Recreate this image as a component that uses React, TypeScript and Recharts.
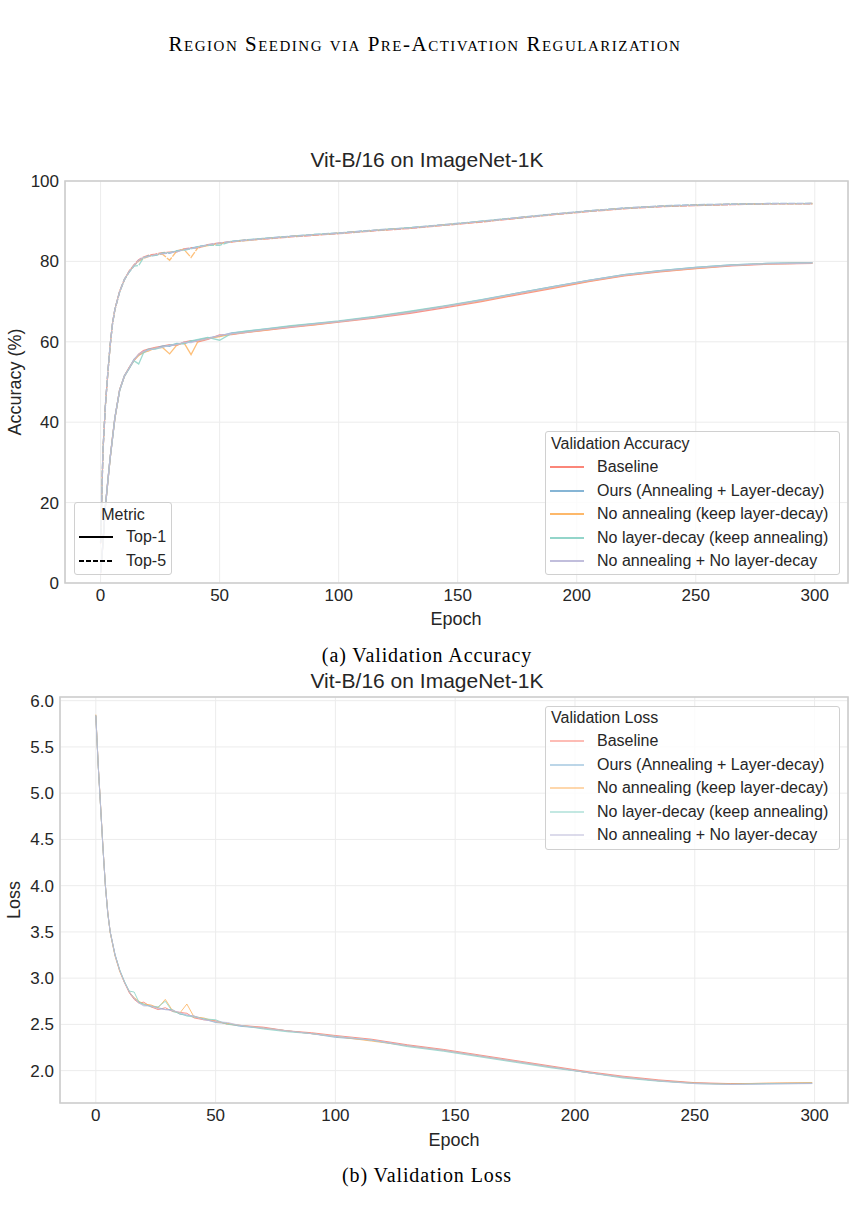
import React from 'react';
import { LineChart, Line, XAxis, YAxis, CartesianGrid, ReferenceArea } from 'recharts';

// ---------- data ----------
const epochs = [0, 1, 2, 3, 4, 5, 6, 8, 10, 12, 14, 16, 18, 20, 23, 26, 29, 32, 35, 38, 41, 45, 50, 55, 60, 70, 80, 90, 100, 115, 130, 145, 160, 175, 190, 205, 220, 235, 250, 265, 280, 299];

const seriesNames = [
  'Baseline',
  'Ours (Annealing + Layer-decay)',
  'No annealing (keep layer-decay)',
  'No layer-decay (keep annealing)',
  'No annealing + No layer-decay',
];
const seriesColors = ['#fb8072', '#80b1d3', '#fdb462', '#8dd3c7', '#bebada'];

const baselineTop1 = [2.4, 9.8, 18.8, 25.2, 31, 36.2, 41, 48.1, 51.4, 53.6, 55.3, 56.9, 57.8, 58.2, 58.6, 58.9, 59.3, 59.1, 59.9, 60.3, 60.0, 60.6, 61.7, 61.8, 62.2, 62.9, 63.6, 64.2, 64.9, 65.9, 67.1, 68.5, 70.0, 71.7, 73.3, 75.0, 76.4, 77.4, 78.2, 78.9, 79.3, 79.5];
const oursTop1 = [2.6, 10.1, 19.1, 25, 31.1, 36, 41.1, 47.9, 51.6, 53.4, 55.6, 56.7, 57.3, 58.1, 58.3, 59.0, 58.9, 59.6, 59.5, 60.1, 60.5, 61.0, 61.4, 62.2, 62.5, 63.2, 63.9, 64.5, 65.1, 66.2, 67.5, 68.9, 70.4, 72.1, 73.7, 75.3, 76.7, 77.7, 78.5, 79.1, 79.5, 79.7];
const noAnnealTop1 = [2.5, 10, 19, 24.9, 30.9, 36.1, 40.9, 48, 51.5, 53.5, 55.4, 56.6, 57.4, 57.7, 58.5, 58.6, 57.0, 59.2, 59.8, 56.8, 60.2, 60.8, 61.3, 61.9, 62.3, 63.0, 63.8, 64.3, 65.0, 66.1, 67.4, 68.8, 70.2, 71.9, 73.5, 75.1, 76.5, 77.5, 78.3, 79.0, 79.4, 79.6];
const noLayerDecayTop1 = [2.5, 9.9, 18.9, 25.1, 31, 35.9, 41, 47.9, 51.4, 53.3, 55.3, 54.5, 57.2, 58.1, 58.2, 58.7, 59.2, 59.5, 59.6, 60.2, 60.6, 61.1, 60.4, 62.1, 62.6, 63.3, 64.0, 64.6, 65.2, 66.3, 67.6, 69.0, 70.5, 72.1, 73.7, 75.3, 76.7, 77.7, 78.5, 79.1, 79.5, 79.7];
const noBothTop1 = [2.5, 10, 19, 25, 31, 36, 41, 48, 51.5, 53.5, 55.5, 56.9, 57.6, 57.9, 58.4, 58.7, 59.1, 59.3, 59.9, 59.8, 60.3, 60.7, 61.6, 62.0, 62.3, 63.1, 63.7, 64.4, 65.0, 66.1, 67.3, 68.8, 70.3, 72.0, 73.6, 75.2, 76.6, 77.6, 78.4, 79.0, 79.4, 79.6];

const baselineTop5 = [9.8, 32.8, 43.9, 52, 59, 64.6, 68.1, 72.6, 75.4, 77.6, 79.1, 80.4, 81.1, 81.5, 81.8, 82.2, 82.3, 82.4, 83.1, 83.4, 83.3, 84.2, 84.6, 84.8, 85.3, 85.6, 86.1, 86.5, 86.9, 87.6, 88.2, 89.0, 89.8, 90.7, 91.6, 92.4, 93.1, 93.6, 93.9, 94.1, 94.3, 94.3];
const oursTop5 = [10.1, 33.1, 44.1, 52.1, 59.1, 64.4, 68, 72.4, 75.6, 77.4, 78.9, 80.2, 80.8, 81.4, 81.5, 82.0, 82.0, 82.7, 82.8, 83.3, 83.7, 84.1, 84.4, 85.0, 85.2, 85.8, 86.3, 86.7, 87.1, 87.8, 88.4, 89.2, 90.0, 90.9, 91.8, 92.6, 93.3, 93.8, 94.1, 94.3, 94.4, 94.45];
const noAnnealTop5 = [10, 33, 44, 51.9, 58.9, 64.5, 67.9, 72.5, 75.5, 77.5, 79.0, 80.1, 80.7, 81.2, 81.7, 81.8, 80.3, 82.6, 83.0, 81.0, 83.5, 83.9, 84.5, 84.9, 85.1, 85.7, 86.2, 86.6, 87.0, 87.7, 88.3, 89.1, 89.9, 90.8, 91.7, 92.5, 93.2, 93.7, 94.0, 94.2, 94.35, 94.4];
const noLayerDecayTop5 = [10, 32.9, 43.9, 52, 59, 64.5, 68, 72.4, 75.4, 77.3, 78.8, 79.0, 80.9, 81.3, 81.5, 82.1, 82.2, 82.6, 82.8, 83.1, 83.7, 84.0, 84.0, 85.0, 85.3, 85.8, 86.2, 86.7, 87.0, 87.7, 88.4, 89.1, 90.0, 90.8, 91.7, 92.5, 93.2, 93.7, 94.0, 94.2, 94.35, 94.4];
const noBothTop5 = [10, 33, 44, 52, 59, 64.5, 68, 72.5, 75.5, 77.5, 79.0, 80.3, 81.0, 81.2, 81.7, 81.9, 82.1, 82.4, 83.0, 83.2, 83.5, 84.1, 84.6, 84.9, 85.2, 85.7, 86.2, 86.6, 87.0, 87.7, 88.3, 89.1, 89.9, 90.8, 91.7, 92.5, 93.2, 93.7, 94.0, 94.2, 94.35, 94.4];

const baselineLoss = [5.84, 5.31, 4.86, 4.41, 4.0, 3.71, 3.5, 3.25, 3.08, 2.95, 2.84, 2.77, 2.73, 2.74, 2.69, 2.66, 2.68, 2.64, 2.63, 2.62, 2.57, 2.55, 2.54, 2.50, 2.49, 2.47, 2.43, 2.41, 2.38, 2.34, 2.28, 2.23, 2.17, 2.11, 2.05, 1.99, 1.94, 1.90, 1.87, 1.86, 1.862, 1.868];
const oursLoss = [5.84, 5.3, 4.85, 4.4, 4.0, 3.7, 3.5, 3.26, 3.08, 2.96, 2.85, 2.78, 2.74, 2.71, 2.70, 2.68, 2.66, 2.66, 2.61, 2.60, 2.59, 2.56, 2.52, 2.51, 2.48, 2.46, 2.43, 2.40, 2.36, 2.33, 2.27, 2.22, 2.16, 2.10, 2.04, 1.98, 1.93, 1.89, 1.865, 1.855, 1.858, 1.862];
const noAnnealLoss = [5.85, 5.3, 4.85, 4.4, 4.0, 3.7, 3.49, 3.24, 3.07, 2.95, 2.85, 2.79, 2.75, 2.72, 2.71, 2.68, 2.77, 2.65, 2.62, 2.72, 2.58, 2.57, 2.53, 2.51, 2.49, 2.46, 2.43, 2.40, 2.37, 2.32, 2.27, 2.22, 2.16, 2.10, 2.04, 1.98, 1.93, 1.89, 1.865, 1.855, 1.865, 1.87];
const noLayerDecayLoss = [5.84, 5.3, 4.85, 4.4, 4.0, 3.7, 3.5, 3.25, 3.09, 2.96, 2.86, 2.85, 2.74, 2.72, 2.69, 2.69, 2.75, 2.64, 2.62, 2.59, 2.58, 2.56, 2.55, 2.50, 2.49, 2.45, 2.42, 2.40, 2.37, 2.33, 2.26, 2.21, 2.15, 2.09, 2.03, 1.98, 1.92, 1.885, 1.86, 1.85, 1.86, 1.865];
const noBothLoss = [5.84, 5.3, 4.85, 4.4, 4.0, 3.7, 3.5, 3.25, 3.08, 2.95, 2.85, 2.78, 2.73, 2.70, 2.70, 2.67, 2.66, 2.65, 2.63, 2.60, 2.59, 2.55, 2.53, 2.52, 2.49, 2.46, 2.43, 2.40, 2.37, 2.33, 2.27, 2.22, 2.16, 2.10, 2.04, 1.98, 1.93, 1.89, 1.86, 1.85, 1.855, 1.86];

const xTicks = [0, 50, 100, 150, 200, 250, 300];
const accTicks = [0, 20, 40, 60, 80, 100];
const lossTicks = [2.0, 2.5, 3.0, 3.5, 4.0, 4.5, 5.0, 5.5, 6.0];

const top1Sets = [baselineTop1, oursTop1, noAnnealTop1, noLayerDecayTop1, noBothTop1];
const top5Sets = [baselineTop5, oursTop5, noAnnealTop5, noLayerDecayTop5, noBothTop5];
const lossSets = [baselineLoss, oursLoss, noAnnealLoss, noLayerDecayLoss, noBothLoss];

const accData = epochs.map((e, i) => {
  const row: Record<string, number> = { epoch: e };
  top1Sets.forEach((s, k) => { row['t1_' + k] = s[i]; });
  top5Sets.forEach((s, k) => { row['t5_' + k] = s[i]; });
  return row;
});
const lossData = epochs.map((e, i) => {
  const row: Record<string, number> = { epoch: e };
  lossSets.forEach((s, k) => { row['l_' + k] = s[i]; });
  return row;
});

// ---------- styles ----------
const SANS = '"Liberation Sans", Arial, Helvetica, sans-serif';
const SERIF = '"Liberation Serif", "Times New Roman", serif';
const INK = '#262626';
const X_DOMAIN: [number, number] = [-14.95, 313.95];

const Txt = (p: { x: number; y: number; size: number; children: React.ReactNode; serif?: boolean; rotate?: boolean; anchor?: 'left' | 'center'; style?: React.CSSProperties }) => (
  <div
    style={{
      position: 'absolute',
      left: p.x,
      top: p.y,
      transform: `translate(${p.anchor === 'left' ? '0' : '-50%'}, -50%)${p.rotate ? ' rotate(-90deg)' : ''}`,
      fontFamily: p.serif ? SERIF : SANS,
      fontSize: p.size,
      lineHeight: 1,
      whiteSpace: 'nowrap',
      color: p.serif ? '#000' : INK,
      ...p.style,
    }}
  >
    {p.children}
  </div>
);

const LegendLine = (p: { x: number; y: number; color: string; width: number; opacity: number; dash?: string }) => (
  <svg style={{ position: 'absolute', left: p.x, top: p.y - 3, overflow: 'visible' }} width={34} height={6}>
    <line x1={0} y1={3} x2={34} y2={3} stroke={p.color} strokeWidth={p.width} strokeOpacity={p.opacity} strokeDasharray={p.dash} />
  </svg>
);

const boxStyle = (left: number, top: number, width: number, height: number): React.CSSProperties => ({
  position: 'absolute',
  left,
  top,
  width,
  height,
  boxSizing: 'border-box',
  border: '1px solid #d0d0d0',
  borderRadius: 3,
  background: 'rgba(255,255,255,0.8)',
});

const tickStyle = { fill: INK, fontSize: 17, fontFamily: SANS };

export default function App() {
  const legendRowsY = [0, 23.5, 47, 70.5, 94];
  return (
    <div style={{ position: 'absolute', left: 0, top: 0, width: 862, height: 1211, background: '#fff', overflow: 'hidden' }}>
      {/* running header */}
      <Txt x={425} y={44} size={21} serif style={{ fontVariant: 'small-caps', letterSpacing: 1.5 }}>
        Region Seeding via Pre-Activation Regularization
      </Txt>

      {/* ---------- Accuracy chart ---------- */}
      <Txt x={427} y={159} size={21}>Vit-B/16 on ImageNet-1K</Txt>
      <div style={{ position: 'absolute', left: 0, top: 140 }}>
        <LineChart width={862} height={500} data={accData} margin={{ top: 41, right: 14, bottom: 27, left: 15 }}>
          <CartesianGrid stroke="#ececec" strokeWidth={1} />
          <XAxis
            dataKey="epoch"
            type="number"
            domain={X_DOMAIN}
            ticks={xTicks}
            allowDataOverflow
            axisLine={false}
            tickLine={false}
            tickSize={4}
            tickMargin={2}
            height={30}
            tick={tickStyle}
            interval={0}
          />
          <YAxis
            type="number"
            domain={[0, 100]}
            ticks={accTicks}
            axisLine={false}
            tickLine={false}
            tickSize={4}
            tickMargin={2}
            width={50}
            tick={tickStyle}
            interval={0}
          />
          {seriesColors.flatMap((c, k) => [
            <Line key={'t1' + k} dataKey={'t1_' + k} type="linear" stroke={c} strokeWidth={1.3} strokeOpacity={0.85} dot={false} isAnimationActive={false} />,
            <Line key={'t5' + k} dataKey={'t5_' + k} type="linear" stroke={c} strokeWidth={1.3} strokeOpacity={0.85} strokeDasharray="7 1.2" dot={false} isAnimationActive={false} />,
          ])}
          <ReferenceArea x1={X_DOMAIN[0]} x2={X_DOMAIN[1]} y1={0} y2={100} fill="none" stroke="#cccccc" strokeWidth={1.6} ifOverflow="visible" />
        </LineChart>
      </div>
      <Txt x={456} y={619} size={18}>Epoch</Txt>
      <Txt x={15} y={382} size={18} rotate>Accuracy (%)</Txt>

      {/* Metric legend */}
      <div style={boxStyle(74, 502, 98, 73)} />
      <Txt x={123} y={514.5} size={16}>Metric</Txt>
      <LegendLine x={79} y={537} color="#000" width={1.8} opacity={1} />
      <Txt x={126} y={537} size={16} anchor="left">Top-1</Txt>
      <LegendLine x={79} y={561} color="#000" width={1.8} opacity={1} dash="5 2" />
      <Txt x={126} y={561} size={16} anchor="left">Top-5</Txt>

      {/* Validation accuracy legend */}
      <div style={boxStyle(545, 431, 295, 144)} />
      <Txt x={551} y={443.5} size={16} anchor="left">Validation Accuracy</Txt>
      {seriesNames.map((n, k) => (
        <React.Fragment key={n}>
          <LegendLine x={550} y={467 + legendRowsY[k]} color={seriesColors[k]} width={2} opacity={0.95} />
          <Txt x={597} y={467 + legendRowsY[k]} size={16} anchor="left">{n}</Txt>
        </React.Fragment>
      ))}

      <Txt x={427} y={655} size={20} serif style={{ letterSpacing: 0.9 }}>(a) Validation Accuracy</Txt>

      {/* ---------- Loss chart ---------- */}
      <Txt x={427} y={680} size={21}>Vit-B/16 on ImageNet-1K</Txt>
      <div style={{ position: 'absolute', left: 0, top: 650 }}>
        <LineChart width={862} height={500} data={lossData} margin={{ top: 47, right: 14, bottom: 17, left: 10 }}>
          <CartesianGrid stroke="#ececec" strokeWidth={1} />
          <XAxis
            dataKey="epoch"
            type="number"
            domain={X_DOMAIN}
            ticks={xTicks}
            allowDataOverflow
            axisLine={false}
            tickLine={false}
            tickSize={4}
            tickMargin={2}
            height={30}
            tick={tickStyle}
            interval={0}
          />
          <YAxis
            type="number"
            domain={[1.65, 6.04]}
            ticks={lossTicks}
            allowDataOverflow
            axisLine={false}
            tickLine={false}
            tickSize={4}
            tickMargin={2}
            width={50}
            tick={tickStyle}
            tickFormatter={(v: number) => v.toFixed(1)}
            interval={0}
          />
          {seriesColors.map((c, k) => (
            <Line key={'l' + k} dataKey={'l_' + k} type="linear" stroke={c} strokeWidth={1} strokeOpacity={0.85} dot={false} isAnimationActive={false} />
          ))}
          <ReferenceArea x1={X_DOMAIN[0]} x2={X_DOMAIN[1]} y1={1.65} y2={6.04} fill="none" stroke="#cccccc" strokeWidth={1.6} ifOverflow="visible" />
        </LineChart>
      </div>
      <Txt x={454} y={1140} size={18}>Epoch</Txt>
      <Txt x={14} y={900} size={18} rotate>Loss</Txt>

      {/* Validation loss legend */}
      <div style={boxStyle(545, 706, 295, 144)} />
      <Txt x={551} y={718} size={16} anchor="left">Validation Loss</Txt>
      {seriesNames.map((n, k) => (
        <React.Fragment key={n}>
          <LegendLine x={550} y={741 + legendRowsY[k]} color={seriesColors[k]} width={1.4} opacity={0.7} />
          <Txt x={597} y={741 + legendRowsY[k]} size={16} anchor="left">{n}</Txt>
        </React.Fragment>
      ))}

      <Txt x={427} y={1175} size={20} serif style={{ letterSpacing: 0.9 }}>(b) Validation Loss</Txt>
    </div>
  );
}
